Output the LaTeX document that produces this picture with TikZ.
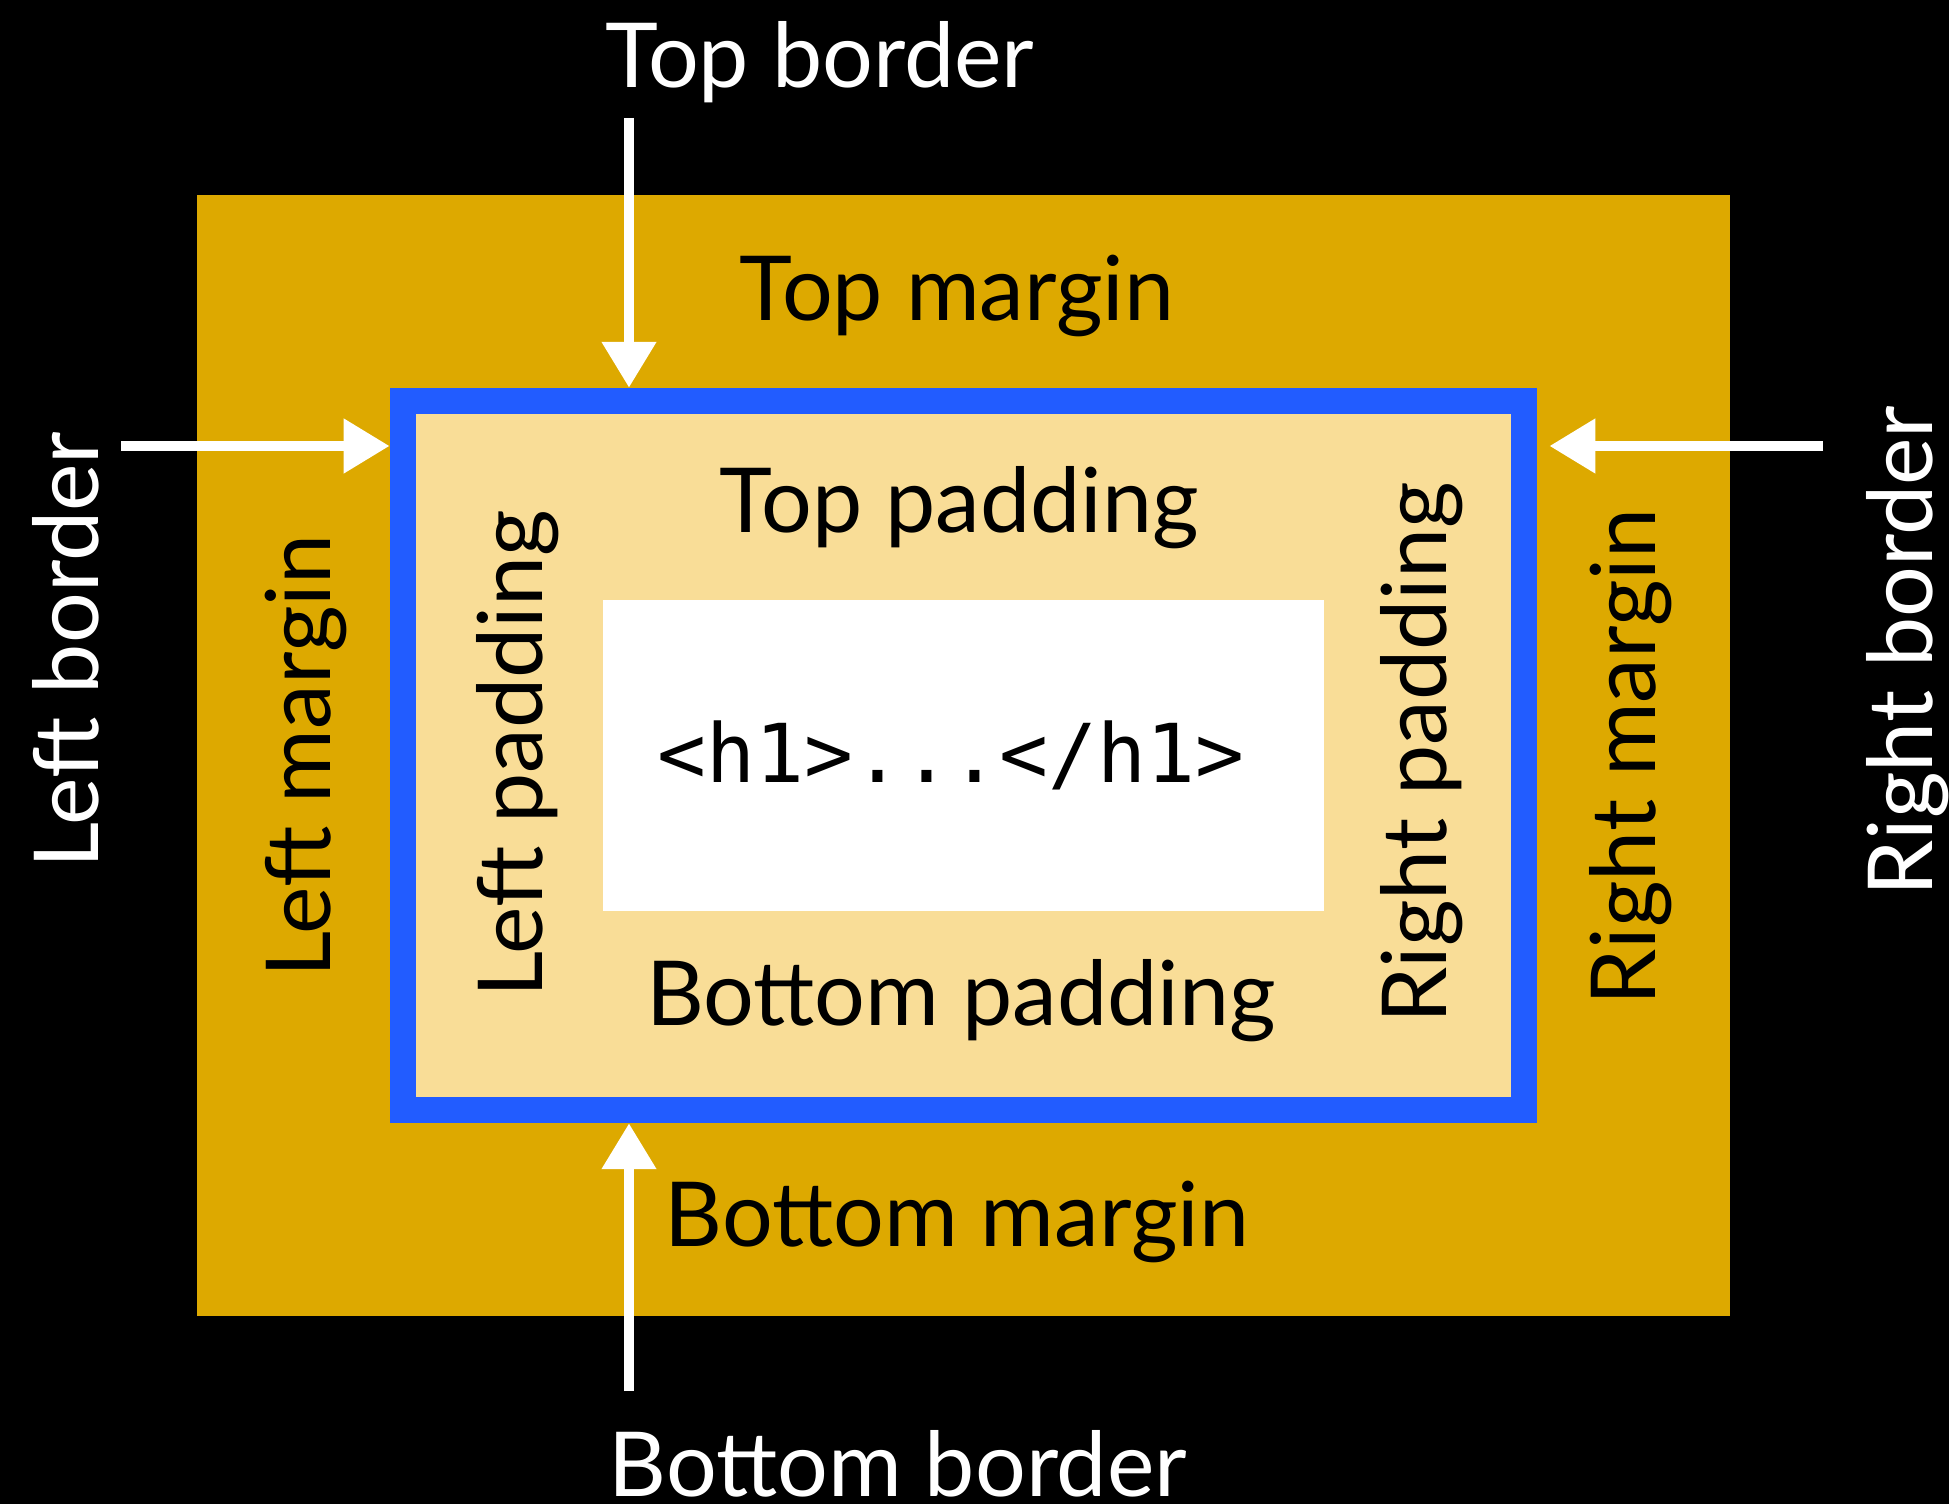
\documentclass[tikz,border=0pt]{standalone}
\usepackage{fontspec}
\setmainfont{Lato}
\newfontfamily\codefont{DejaVu Sans Mono}
\usetikzlibrary{arrows.meta, positioning}
\definecolor{mgold}{HTML}{DDA900}
\definecolor{bblue}{HTML}{225CFF}
\definecolor{ptan}{HTML}{F9DD97}
\tikzset{
  layer/.style={inner sep=0pt, outer sep=0pt},
  lbl/.style={font=\fontsize{25.5}{30}\selectfont, inner sep=0pt, anchor=base},
  vlbl/.style={lbl, rotate=90},
  arr/.style={-{Triangle[length=4.6mm, width=5.2mm]}, white, line width=3.1pt},
}

\begin{document}
\begin{tikzpicture}[x=0.01cm, y=-0.01cm]

% Background
\useasboundingbox (0,0) rectangle (1949,1504);
\fill[black] (0,0) rectangle (1949,1504);

% ========== Nested boxes ==========
\coordinate (c) at (963.5,755.5);
\node[layer, fill=mgold, minimum width=15.32cm, minimum height=11.21cm] (margin) at (c) {};
\node[layer, fill=bblue, minimum width=11.47cm, minimum height=7.35cm] (border) at (c) {};
\node[layer, fill=ptan, minimum width=10.95cm, minimum height=6.83cm] (padding) at (c) {};
\node[layer, fill=white, minimum width=7.21cm, minimum height=3.10cm] (content) at (c) {};
\node[anchor=base, inner sep=0pt, font=\codefont\fontsize{23.1}{28}\selectfont] (code) at (951,782) {<h1>...</h1>};

% Horizontal labels
\node[lbl, text=white] (tborder) at (820,88) {Top border};
\node[lbl] (tmargin) at (957,321) {Top margin};
\node[lbl] (tpadding) at (959,533) {Top padding};
\node[lbl] (bpadding) at (961,1025) {Bottom padding};
\node[lbl] (bmargin) at (957,1246) {Bottom margin};
\node[lbl, text=white] (bborder) at (898,1496) {Bottom border};

% Vertical labels
\node[vlbl, text=white] (lborder) at (98,650) {Left border};
\node[vlbl] (lmargin) at (330,756) {Left margin};
\node[vlbl] (lpadding) at (542,754) {Left padding};
\node[vlbl] (rpadding) at (1446,753) {Right padding};
\node[vlbl] (rmargin) at (1655,757) {Right margin};
\node[vlbl, text=white] (rborder) at (1932,651) {Right border};

% ========== Arrows onto the border ==========
\coordinate (ttail) at (629,118);
\coordinate (btail) at (629,1391);
\coordinate (ltail) at (121,446);
\coordinate (rtail) at (1823,446);
\draw[arr] (ttail) -- (ttail |- border.north);
\draw[arr] (btail) -- (btail |- border.south);
\draw[arr] (ltail) -- (ltail -| border.west);
\draw[arr, shorten >=0.12cm] (rtail) -- (rtail -| border.east);

\end{tikzpicture}
\end{document}
